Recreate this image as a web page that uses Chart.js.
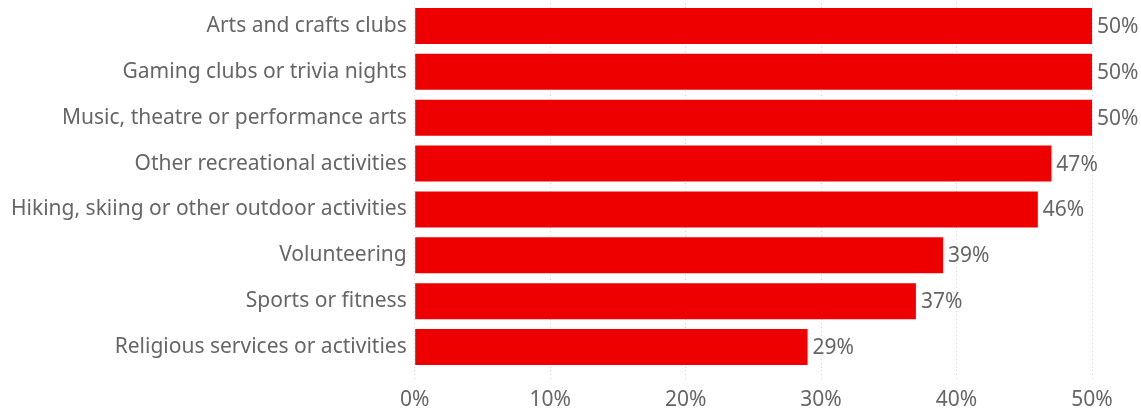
<!DOCTYPE html>
<html>
<head>
<meta charset="utf-8">
<script src="https://cdn.jsdelivr.net/npm/chart.js@4/dist/chart.umd.min.js"></script>
<style>
  html, body { margin: 0; padding: 0; background: #fff; }
  #wrap { width: 1141px; height: 411px; }
</style>
</head>
<body>
<div id="wrap"><canvas id="c" width="1141" height="411"></canvas></div>
<script>
const categories = [
  "Arts and crafts clubs",
  "Gaming clubs or trivia nights",
  "Music, theatre or performance arts",
  "Other recreational activities",
  "Hiking, skiing or other outdoor activities",
  "Volunteering",
  "Sports or fitness",
  "Religious services or activities"
];
const shares = [50, 50, 50, 47, 46, 39, 37, 29];
const tickValues = [0, 10, 20, 30, 40, 50];

const FONT = "'Noto Sans', 'Open Sans', sans-serif";
const TEXT = "#666666";
const SIZE = 21;

// Writes each bar's percentage just past its end
const valueLabels = {
  id: "valueLabels",
  afterDatasetsDraw(chart) {
    const ctx = chart.ctx;
    const meta = chart.getDatasetMeta(0);
    ctx.save();
    ctx.font = SIZE + "px " + FONT;
    ctx.fillStyle = TEXT;
    ctx.textAlign = "left";
    ctx.textBaseline = "middle";
    meta.data.forEach((bar, i) => {
      ctx.fillText(shares[i] + "%", bar.x + 5, bar.y + 1);
    });
    ctx.restore();
  }
};

new Chart(document.getElementById("c"), {
  type: "bar",
  data: {
    labels: categories,
    datasets: [{
      data: shares,
      backgroundColor: "#EE0000",
      borderWidth: 0,
      barPercentage: 0.785,
      categoryPercentage: 1.0
    }]
  },
  options: {
    indexAxis: "y",
    responsive: false,
    animation: false,
    events: [],
    layout: { padding: { top: 3, right: 49, left: 3, bottom: 0 } },
    plugins: {
      legend: { display: false },
      tooltip: { enabled: false }
    },
    scales: {
      x: {
        min: 0,
        max: 50,
        afterBuildTicks(axis) {
          axis.ticks = tickValues.map(v => ({ value: v }));
        },
        // fixed band for the percentage ticks under the bars
        afterFit(axis) {
          axis.height = 41;
        },
        border: { display: false, dash: [1, 3] },
        grid: {
          color: "#d6d6d6",
          lineWidth: 1,
          drawTicks: true,
          tickLength: 12,
          tickColor: "#d6d6d6",
          tickBorderDash: [1, 3]
        },
        ticks: {
          color: TEXT,
          font: { family: FONT, size: SIZE, lineHeight: 1 },
          padding: 8,
          callback: v => v + "%"
        }
      },
      y: {
        border: { display: false },
        grid: { display: false, drawTicks: false },
        ticks: {
          color: TEXT,
          font: { family: FONT, size: SIZE },
          padding: 8
        },
        // categories are offset, so the end labels need no extra room
        afterFit(axis) {
          axis.paddingTop = 0;
          axis.paddingBottom = 0;
        }
      }
    }
  },
  plugins: [valueLabels]
});
</script>
</body>
</html>
